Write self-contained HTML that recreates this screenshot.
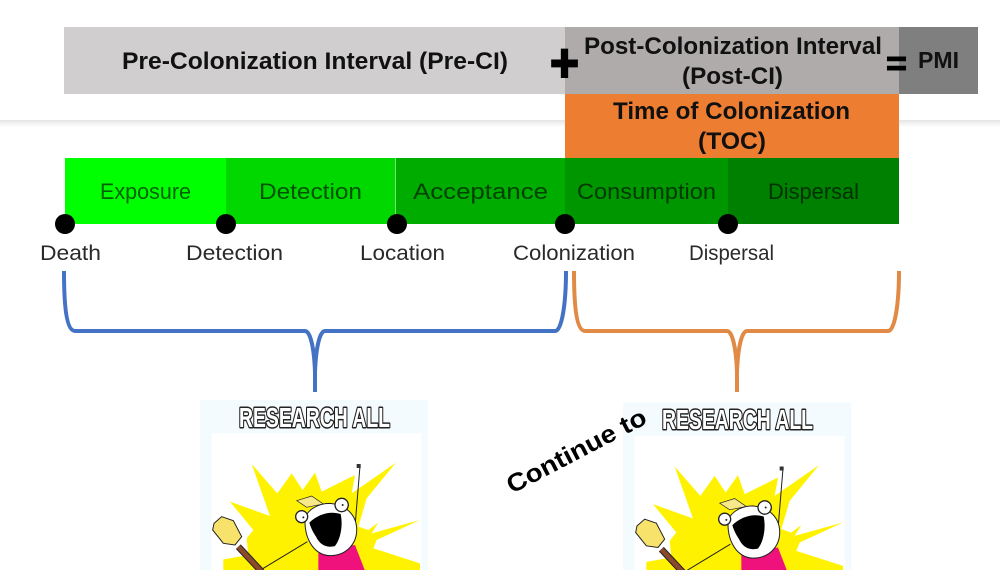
<!DOCTYPE html>
<html>
<head>
<meta charset="utf-8">
<style>
html,body{margin:0;padding:0;background:#fff}
svg{display:block}
text{font-family:"Liberation Sans",sans-serif}
</style>
</head>
<body>
<svg width="1000" height="570" viewBox="0 0 1000 570" xmlns="http://www.w3.org/2000/svg">
<defs>
<linearGradient id="sh" x1="0" y1="0" x2="0" y2="1"><stop offset="0" stop-color="#e4e4e4"/><stop offset="1" stop-color="#fff"/></linearGradient>
</defs>
<rect width="1000" height="570" fill="#fff"/>
<rect x="0" y="120" width="1000" height="7" fill="url(#sh)"/>

<rect x="64" y="27" width="501" height="67" fill="#d0cece"/>
<rect x="565" y="27" width="334" height="67" fill="#afabab"/>
<rect x="899" y="27" width="79" height="67" fill="#7f7f7f"/>
<rect x="565" y="94" width="334" height="64" fill="#ed7d31"/>

<rect x="65" y="158" width="161" height="66" fill="#00ff00"/>
<rect x="226" y="158" width="169" height="66" fill="#00d800"/>
<rect x="395" y="158" width="170" height="66" fill="#00ac00"/>
<rect x="395" y="158" width="1" height="66" fill="#6ee56e"/>
<rect x="565" y="158" width="163" height="66" fill="#009600"/>
<rect x="728" y="158" width="171" height="66" fill="#008000"/>

<g font-weight="bold" fill="#111">
<text x="122" y="69" font-size="24" textLength="386" lengthAdjust="spacingAndGlyphs">Pre-Colonization Interval (Pre-CI)</text>
<text x="584" y="54" font-size="24" textLength="298" lengthAdjust="spacingAndGlyphs">Post-Colonization Interval</text>
<text x="682" y="84" font-size="24" textLength="101" lengthAdjust="spacingAndGlyphs">(Post-CI)</text>
<text x="613" y="119" font-size="24" textLength="237" lengthAdjust="spacingAndGlyphs">Time of Colonization</text>
<text x="698" y="149" font-size="24" textLength="68" lengthAdjust="spacingAndGlyphs">(TOC)</text>
<text x="918" y="68" font-size="23" textLength="41" lengthAdjust="spacingAndGlyphs">PMI</text>
<text x="550" y="81" font-size="54" textLength="29" lengthAdjust="spacingAndGlyphs" fill="#000" stroke="#000" stroke-width="2">+</text>
<text x="886" y="75" font-size="34" textLength="21" lengthAdjust="spacingAndGlyphs" fill="#000" stroke="#000" stroke-width="1">=</text>
</g>

<g font-size="22" fill="#000" fill-opacity=".62">
<text x="100" y="199" textLength="91" lengthAdjust="spacingAndGlyphs">Exposure</text>
<text x="259" y="199" textLength="103" lengthAdjust="spacingAndGlyphs">Detection</text>
<text x="413" y="199" textLength="135" lengthAdjust="spacingAndGlyphs">Acceptance</text>
<text x="577" y="199" textLength="139" lengthAdjust="spacingAndGlyphs">Consumption</text>
<text x="768" y="199" textLength="91" lengthAdjust="spacingAndGlyphs">Dispersal</text>
</g>

<g fill="#000">
<circle cx="65" cy="224" r="10"/>
<circle cx="226" cy="224" r="10"/>
<circle cx="397" cy="224" r="10"/>
<circle cx="565" cy="224" r="10"/>
<circle cx="728" cy="224" r="10"/>
</g>

<g font-size="21" fill="#2a2a2a">
<text x="40" y="260" textLength="61" lengthAdjust="spacingAndGlyphs">Death</text>
<text x="186" y="260" textLength="97" lengthAdjust="spacingAndGlyphs">Detection</text>
<text x="360" y="260" textLength="85" lengthAdjust="spacingAndGlyphs">Location</text>
<text x="513" y="260" textLength="122" lengthAdjust="spacingAndGlyphs">Colonization</text>
<text x="689" y="260" textLength="85" lengthAdjust="spacingAndGlyphs">Dispersal</text>
</g>

<g fill="none" stroke-width="4">
<path stroke="#4472c4" d="M64 271C64 303 66 331 75 331L305 331C310 331 314 346 315 372L315 392M315 372C316 346 320 331 325 331L555 331C562 331 566 303 566 271"/>
<path stroke="#e08a45" d="M574 271C574 303 576 331 585 331L727 331C732 331 736 346 737 372L737 392M737 372C738 346 742 331 747 331L888 331C895 331 899 303 899 271"/>
</g>

<!-- left meme -->
<g transform="translate(190 390) scale(.33333)">
<rect x="30" y="30" width="685" height="520" fill="#f4fbff"/>
<rect x="65" y="130" width="630" height="420" fill="#fff"/>
<polygon fill="#fff200" points="185,222 262,310 305,250 338,300 375,248 395,305 495,255 485,310 618,218 530,325 505,410 535,420 565,398 545,430 690,390 560,450 550,475 690,520 690,550 100,550 100,508 175,495 170,445 190,420 120,335 240,378"/>
<polygon fill="#f0127c" points="385,480 495,465 528,550 385,550"/>
<line x1="495" y1="410" x2="510" y2="228" stroke="#222" stroke-width="3"/>
<rect x="500" y="222" width="12" height="12" fill="#333"/>
<line x1="215" y1="538" x2="352" y2="455" stroke="#222" stroke-width="3"/>
<line x1="145" y1="470" x2="215" y2="545" stroke="#222" stroke-width="20"/>
<line x1="145" y1="470" x2="215" y2="545" stroke="#8b4a2a" stroke-width="14"/>
<polygon fill="#f7e36b" stroke="#222" stroke-width="3" points="68,420 72,400 95,380 130,392 155,440 135,465 100,460"/>
<polygon fill="#f7e88a" stroke="#222" stroke-width="2" points="320,332 365,318 400,342 350,352"/>
<path fill="#fff" stroke="#222" stroke-width="3" d="M345 395C345 445 370 495 420 497C470 497 502 460 500 415C498 375 470 345 420 340C385 340 345 360 345 395Z"/>
<path fill="#000" d="M358 398C385 372 420 362 452 372C460 410 450 450 435 468C410 475 390 465 378 440C368 425 362 412 358 398Z"/>
<circle cx="335" cy="380" r="18" fill="#fff" stroke="#222" stroke-width="4"/>
<circle cx="455" cy="345" r="20" fill="#fff" stroke="#222" stroke-width="4"/>
<circle cx="340" cy="382" r="3" fill="#222"/>
<circle cx="458" cy="345" r="3" fill="#222"/>
</g>
<text x="239" y="427" font-size="28" font-weight="bold" fill="#fff" stroke="#222" stroke-width="3" paint-order="stroke" stroke-linejoin="round" textLength="151" lengthAdjust="spacingAndGlyphs">RESEARCH ALL</text>

<!-- right meme -->
<g transform="translate(613 392.5) scale(.33333)">
<rect x="30" y="30" width="685" height="520" fill="#f4fbff"/>
<rect x="65" y="130" width="630" height="420" fill="#fff"/>
<polygon fill="#fff200" points="185,222 262,310 305,250 338,300 375,248 395,305 495,255 485,310 618,218 530,325 505,410 535,420 565,398 545,430 690,390 560,450 550,475 690,520 690,550 100,550 100,508 175,495 170,445 190,420 120,335 240,378"/>
<polygon fill="#f0127c" points="385,480 495,465 528,550 385,550"/>
<line x1="495" y1="410" x2="510" y2="228" stroke="#222" stroke-width="3"/>
<rect x="500" y="222" width="12" height="12" fill="#333"/>
<line x1="215" y1="538" x2="352" y2="455" stroke="#222" stroke-width="3"/>
<line x1="145" y1="470" x2="215" y2="545" stroke="#222" stroke-width="20"/>
<line x1="145" y1="470" x2="215" y2="545" stroke="#8b4a2a" stroke-width="14"/>
<polygon fill="#f7e36b" stroke="#222" stroke-width="3" points="68,420 72,400 95,380 130,392 155,440 135,465 100,460"/>
<polygon fill="#f7e88a" stroke="#222" stroke-width="2" points="320,332 365,318 400,342 350,352"/>
<path fill="#fff" stroke="#222" stroke-width="3" d="M345 395C345 445 370 495 420 497C470 497 502 460 500 415C498 375 470 345 420 340C385 340 345 360 345 395Z"/>
<path fill="#000" d="M358 398C385 372 420 362 452 372C460 410 450 450 435 468C410 475 390 465 378 440C368 425 362 412 358 398Z"/>
<circle cx="335" cy="380" r="18" fill="#fff" stroke="#222" stroke-width="4"/>
<circle cx="455" cy="345" r="20" fill="#fff" stroke="#222" stroke-width="4"/>
<circle cx="340" cy="382" r="3" fill="#222"/>
<circle cx="458" cy="345" r="3" fill="#222"/>
</g>
<text x="662" y="429" font-size="28" font-weight="bold" fill="#fff" stroke="#222" stroke-width="3" paint-order="stroke" stroke-linejoin="round" textLength="151" lengthAdjust="spacingAndGlyphs">RESEARCH ALL</text>

<text transform="translate(512 494) rotate(-27.6)" font-size="25" font-weight="bold" fill="#000" textLength="154" lengthAdjust="spacingAndGlyphs">Continue to</text>
</svg>
</body>
</html>
